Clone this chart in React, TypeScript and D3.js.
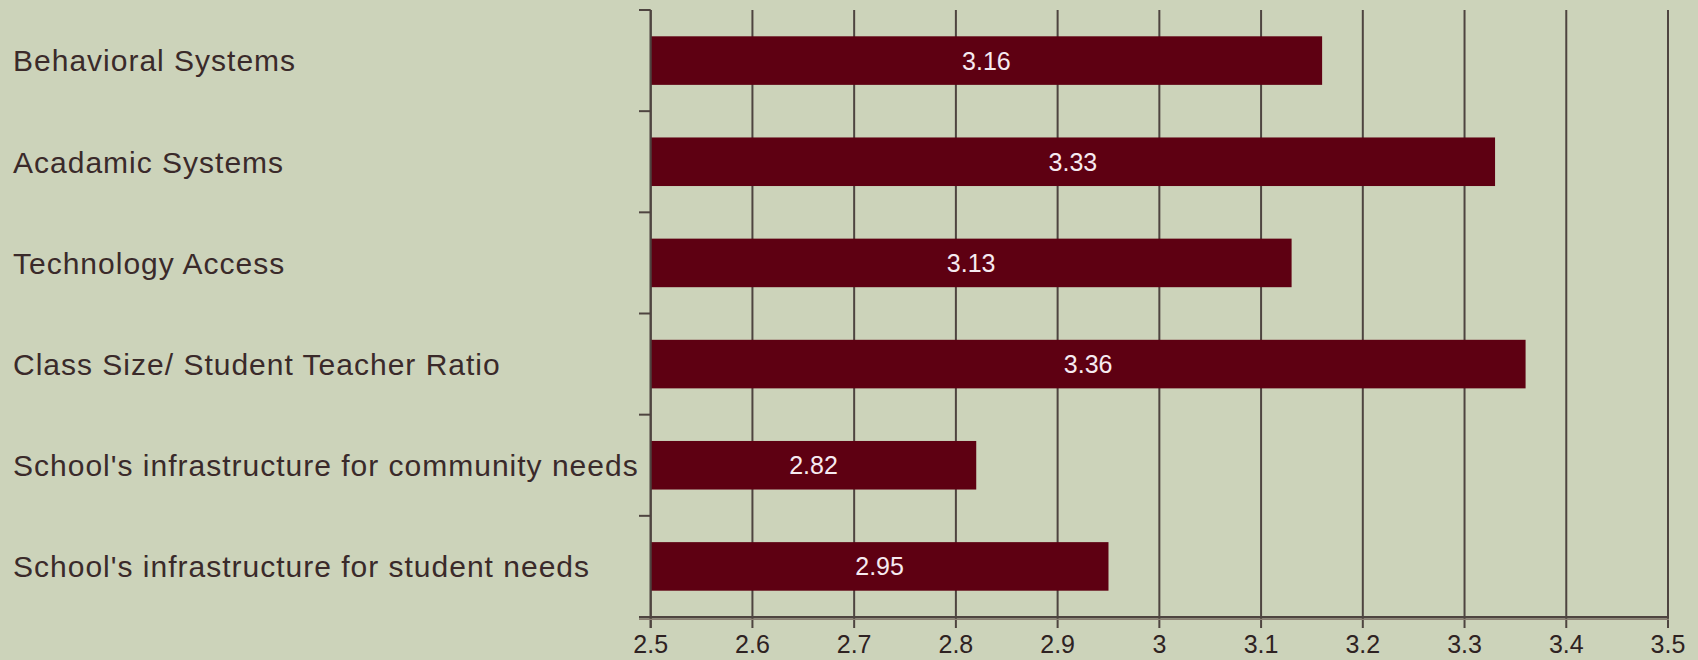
import React from "react";
import * as d3 from "d3";

const categories = [
  "Behavioral Systems",
  "Acadamic Systems",
  "Technology Access",
  "Class Size/ Student Teacher Ratio",
  "School's infrastructure for community needs",
  "School's infrastructure for student needs",
];
const values = [3.16, 3.33, 3.13, 3.36, 2.82, 2.95];
const xTicks = [2.5, 2.6, 2.7, 2.8, 2.9, 3, 3.1, 3.2, 3.3, 3.4, 3.5];

const W = 1698;
const H = 660;
const BG = "#ccd3ba";
const BAR = "#5e0012";
const GRID = "#4e4440";
const TEXT = "#2e2222";
const FONT = "'Liberation Sans', Arial, sans-serif";

export default function App() {
  const x = d3.scaleLinear().domain([2.5, 3.5]).range([650.7, 1668]);
  const y = d3
    .scaleBand<string>()
    .domain(categories)
    .range([10, 617])
    .paddingInner(0.52)
    .paddingOuter(0.26);
  const step = y.step();
  const y0 = 10;
  const yAxis = 617.3;
  const boundaries = d3.range(categories.length + 1).map((i) => y0 + i * step);

  return (
    <>
      <style>{`body{margin:0;background:${BG}}`}</style>
      <svg width={W} height={H} style={{ display: "block", background: BG }}>
        <rect x={0} y={0} width={W} height={H} fill={BG} />
        {xTicks.map((t) => (
          <line
            key={"g" + t}
            x1={x(t)}
            x2={x(t)}
            y1={y0}
            y2={628}
            stroke={GRID}
            strokeWidth={2}
          />
        ))}
        {categories.map((c, i) => (
          <rect
            key={"b" + c}
            x={x(2.5)}
            y={y(c)}
            width={x(values[i]) - x(2.5)}
            height={y.bandwidth()}
            fill={BAR}
          />
        ))}
        {categories.map((c, i) => (
          <text
            key={"v" + c}
            x={(x(2.5) + x(values[i])) / 2}
            y={(y(c) as number) + y.bandwidth() / 2}
            dy="0.36em"
            textAnchor="middle"
            fill="#f6eaf0"
            fontFamily={FONT}
            fontSize={25}
          >
            {values[i].toFixed(2)}
          </text>
        ))}
        <line x1={x(2.5)} x2={x(2.5)} y1={y0} y2={628} stroke={GRID} strokeWidth={2} />
        {boundaries.map((b, i) => (
          <line key={"yt" + i} x1={639} x2={x(2.5)} y1={b} y2={b} stroke={GRID} strokeWidth={2} />
        ))}
        <line x1={639} x2={x(3.5) + 1} y1={yAxis} y2={yAxis} stroke={GRID} strokeWidth={2.5} />
        <line x1={639} x2={x(3.5) + 1} y1={yAxis + 2} y2={yAxis + 2} stroke="#8a7f72" strokeWidth={1.2} />
        {xTicks.map((t) => (
          <text
            key={"xl" + t}
            x={x(t)}
            y={653}
            textAnchor="middle"
            fill={TEXT}
            fontFamily={FONT}
            fontSize={25}
          >
            {d3.format("~g")(t)}
          </text>
        ))}
        {categories.map((c) => (
          <text
            key={"yl" + c}
            x={13}
            y={(y(c) as number) + y.bandwidth() / 2}
            dy="0.36em"
            fill="#3a2a2a"
            fontFamily={FONT}
            fontSize={30}
            letterSpacing={1}
          >
            {c}
          </text>
        ))}
      </svg>
    </>
  );
}
